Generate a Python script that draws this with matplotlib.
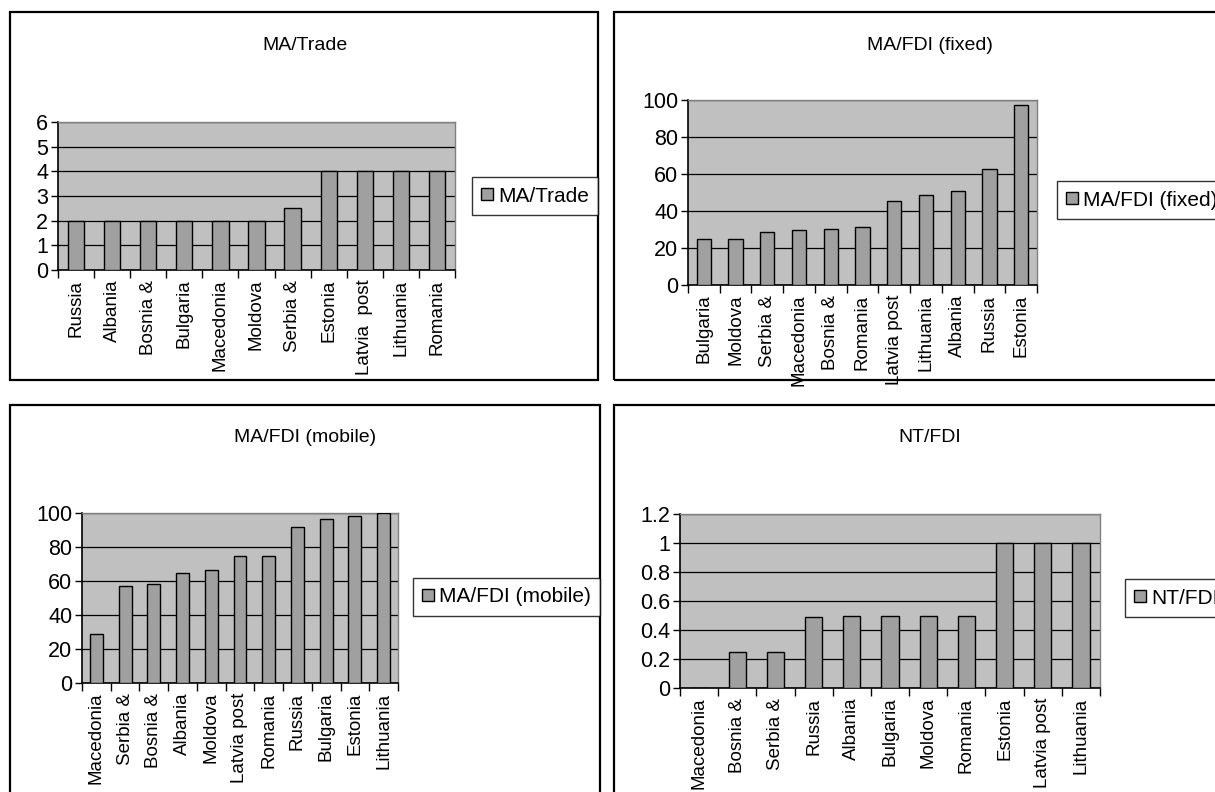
import matplotlib
matplotlib.use("Agg")
import matplotlib.pyplot as plt
from matplotlib.patches import Rectangle, Patch
import numpy as np

plt.rcParams['font.family'] = ['Liberation Sans', 'DejaVu Sans']

# ---------------- data ----------------
trade_cats = ["Russia", "Albania", "Bosnia &", "Bulgaria", "Macedonia", "Moldova",
              "Serbia &", "Estonia", "Latvia  post", "Lithuania", "Romania"]
trade_vals = [2, 2, 2, 2, 2, 2, 2.5, 4, 4, 4, 4]

fixed_cats = ["Bulgaria", "Moldova", "Serbia &", "Macedonia", "Bosnia &", "Romania",
              "Latvia post", "Lithuania", "Albania", "Russia", "Estonia"]
fixed_vals = [25, 25, 28.5, 29.5, 30.5, 31.5, 45.5, 48.5, 51, 62.5, 97.5]

mobile_cats = ["Macedonia", "Serbia &", "Bosnia &", "Albania", "Moldova", "Latvia post",
               "Romania", "Russia", "Bulgaria", "Estonia", "Lithuania"]
mobile_vals = [29, 57, 58, 65, 66.5, 75, 75, 92, 96.5, 98, 100]

nt_cats = ["Macedonia", "Bosnia &", "Serbia &", "Russia", "Albania", "Bulgaria",
           "Moldova", "Romania", "Estonia", "Latvia post", "Lithuania"]
nt_vals = [0, 0.25, 0.25, 0.49, 0.5, 0.5, 0.5, 0.5, 1, 1, 1]

trade_ticks = [0, 1, 2, 3, 4, 5, 6]
fixed_ticks = [0, 20, 40, 60, 80, 100]
mobile_ticks = [0, 20, 40, 60, 80, 100]
nt_ticks = [0, 0.2, 0.4, 0.6, 0.8, 1, 1.2]
nt_ticklabels = ["0", "0.2", "0.4", "0.6", "0.8", "1", "1.2"]

# ---------------- figure ----------------
W, H = 1215, 792
fig = plt.figure(figsize=(W / 100, H / 100), dpi=100)
fig.patch.set_facecolor("white")

BG = "#C0C0C0"
BAR = "#A0A0A0"


def fx(x):
    return x / W


def fy(y):
    return 1 - y / H


def panel_box(x0, y0, x1, y1):
    r = Rectangle((fx(x0), fy(y1)), fx(x1) - fx(x0), fy(y0) - fy(y1),
                  transform=fig.transFigure, fill=False, edgecolor="black",
                  linewidth=1.6, clip_on=False)
    fig.add_artist(r)


def panel(px0, py0, px1, py1, cats, vals, ticks, ticklabels, title, title_xy,
          leg_xy, ylim):
    ax = fig.add_axes([fx(px0), fy(py1), fx(px1) - fx(px0), fy(py0) - fy(py1)])
    ax.set_facecolor(BG)
    x = np.arange(len(cats))
    ax.bar(x, vals, width=0.45, color=BAR, edgecolor="black", linewidth=1.0,
           zorder=3)
    ax.set_xlim(-0.5, len(cats) - 0.5)
    ax.set_ylim(*ylim)
    ax.set_yticks(ticks)
    ax.set_yticklabels(ticklabels, fontsize=15.5)
    for t in ticks:
        ax.axhline(t, color="black", linewidth=0.9, zorder=1)
    ax.set_xticks(x)
    ax.set_xticklabels(cats, rotation=90, fontsize=13.5)
    ax.set_xticks(np.arange(len(cats) + 1) - 0.5, minor=True)
    ax.tick_params(axis="x", which="major", length=0, pad=7)
    ax.tick_params(axis="x", which="minor", length=6, width=1, direction="out")
    ax.tick_params(axis="y", length=5, width=1, direction="out", pad=2)
    for s in ["top", "right"]:
        ax.spines[s].set_color("#808080")
        ax.spines[s].set_linewidth(1)
    for s in ["left", "bottom"]:
        ax.spines[s].set_color("black")
        ax.spines[s].set_linewidth(1.2)
    fig.text(fx(title_xy[0]), fy(title_xy[1]), title, ha="center", va="center",
             fontsize=14)
    leg = fig.legend(handles=[Patch(facecolor=BAR, edgecolor="black",
                                    linewidth=1.0, label=title)],
                     loc="center left", bbox_to_anchor=(fx(leg_xy[0]), fy(leg_xy[1])),
                     frameon=True, fancybox=False, fontsize=15,
                     handlelength=0.55, handleheight=0.55, handletextpad=0.25,
                     borderpad=0.45, borderaxespad=0)
    leg.get_frame().set_edgecolor("black")
    leg.get_frame().set_linewidth(1.0)
    return ax


panel_box(10, 12, 598, 380)
panel_box(614, 12, 1240, 380)
panel_box(10, 405, 600, 800)
panel_box(614, 405, 1240, 800)

panel(58, 122, 455, 270, trade_cats, trade_vals, trade_ticks,
      [str(t) for t in trade_ticks], "MA/Trade", (305, 45), (472, 196), (0, 6))
panel(688, 100, 1037, 285, fixed_cats, fixed_vals, fixed_ticks,
      [str(t) for t in fixed_ticks], "MA/FDI (fixed)", (930, 45), (1057, 200),
      (0, 100))
panel(82, 513, 398, 683, mobile_cats, mobile_vals, mobile_ticks,
      [str(t) for t in mobile_ticks], "MA/FDI (mobile)", (305, 437), (413, 597),
      (0, 100))
panel(680, 514, 1100, 688, nt_cats, nt_vals, nt_ticks, nt_ticklabels,
      "NT/FDI", (930, 437), (1125, 598), (0, 1.2))

fig.savefig("out.png", dpi=100)
